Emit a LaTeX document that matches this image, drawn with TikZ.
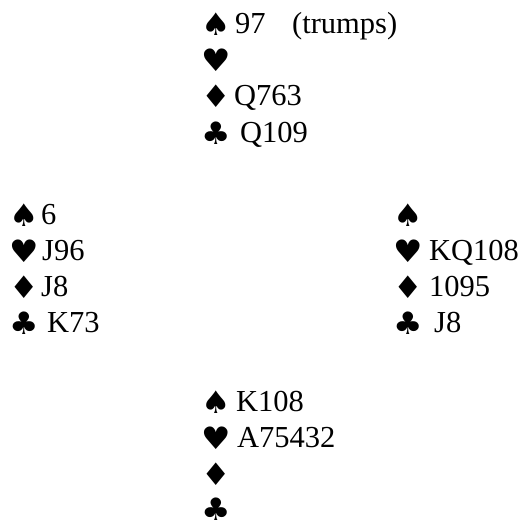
\documentclass[tikz,border=0pt]{standalone}
\usepackage{fontspec}
\setmainfont{Liberation Serif}
\newfontfamily\suitfont{DejaVu Sans}
\newcommand\cardsuit[1]{\raisebox{-2pt}[\height][0pt]{\scalebox{1.06}[1]{#1}}}
\tikzset{
  cards/.style={anchor=base west, inner sep=0pt, font=\fontsize{30.5}{36}\selectfont},
  suit/.style={anchor=base west, inner sep=0pt, font=\suitfont\fontsize{31}{37}\selectfont},
}
\begin{document}
\begin{tikzpicture}[x=1pt,y=-1pt]
\useasboundingbox[fill=white] (0,0) rectangle (524,524);
% North
\node[suit]  (ns) at (201,34)  {\cardsuit{♠}};
\node[cards] (nsc) at (235,34) {97};
\node[cards] (ntr) at (292,34) {(trumps)};
\node[suit]  (nh) at (201,70)  {\cardsuit{♥}};
\node[suit]  (nd) at (201,106) {\cardsuit{♦}};
\node[cards] (ndc) at (234,106) {Q763};
\node[suit]  (nc) at (201,142) {\cardsuit{♣}};
\node[cards] (ncc) at (240,142) {Q109};
% West
\node[suit]  (ws) at (9,224)  {\cardsuit{♠}};
\node[cards] (wsc) at (41,224) {6};
\node[suit]  (wh) at (9,260)  {\cardsuit{♥}};
\node[cards] (whc) at (42,260) {J96};
\node[suit]  (wd) at (9,296)  {\cardsuit{♦}};
\node[cards] (wdc) at (41,296) {J8};
\node[suit]  (wc) at (9,332)  {\cardsuit{♣}};
\node[cards] (wcc) at (47,332) {K73};
% East
\node[suit]  (es) at (393,224)  {\cardsuit{♠}};
\node[suit]  (eh) at (393,260)  {\cardsuit{♥}};
\node[cards] (ehc) at (429,260) {KQ108};
\node[suit]  (ed) at (393,296)  {\cardsuit{♦}};
\node[cards] (edc) at (429,296) {1095};
\node[suit]  (ec) at (393,332)  {\cardsuit{♣}};
\node[cards] (ecc) at (434,332) {J8};
% South
\node[suit]  (ss) at (201,411)  {\cardsuit{♠}};
\node[cards] (ssc) at (236,411) {K108};
\node[suit]  (sh) at (201,447)  {\cardsuit{♥}};
\node[cards] (shc) at (237,447) {A75432};
\node[suit]  (sd) at (201,483) {\cardsuit{♦}};
\node[suit]  (sc) at (201,518) {\cardsuit{♣}};
\end{tikzpicture}
\end{document}
